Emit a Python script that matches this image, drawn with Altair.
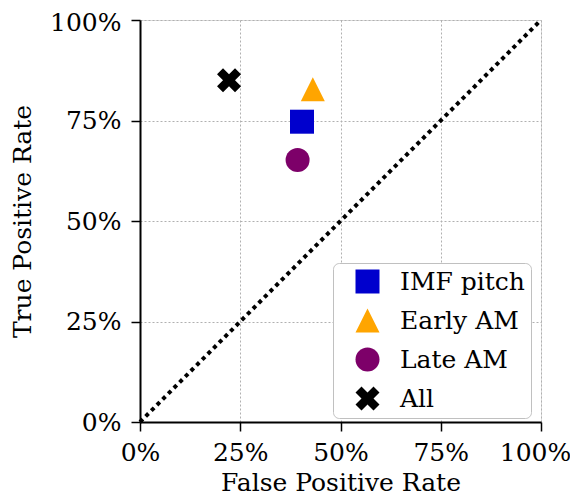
import altair as alt
import pandas as pd

# ---- data ----
categories = ["IMF pitch", "Early AM", "Late AM", "All"]
fpr = [0.404, 0.431, 0.393, 0.222]
tpr = [0.747, 0.828, 0.652, 0.850]
diag_x = [0.0, 1.0]
diag_y = [0.0, 1.0]
tick_values = [0, 0.25, 0.5, 0.75, 1.0]

colors = ["#0000CD", "#FFA500", "#7D0069", "#000000"]
X_PATH = "M0.5,-1L0,-0.5L-0.5,-1L-1,-0.5L-0.5,0L-1,0.5L-0.5,1L0,0.5L0.5,1L1,0.5L0.5,0L1,-0.5Z"
TRI_PATH = "M0,-1L1,1L-1,1Z"
shapes = ["square", TRI_PATH, "circle", X_PATH]

pts = pd.DataFrame({"cat": categories, "fpr": fpr, "tpr": tpr})
diag = pd.DataFrame({"fpr": diag_x, "tpr": diag_y})

FONT = "DejaVu Serif"


def make_axis(title, lab_pad, title_pad, last_offset):
    return alt.Axis(
        title=title, values=tick_values, format=".0%",
        labelFont=FONT, labelFontSize=25, labelColor="black",
        titleFont=FONT, titleFontSize=25, titleFontWeight="normal", titleColor="black",
        domainColor="black", domainWidth=2,
        tickColor="black", tickWidth=1.5, tickSize=9,
        labelPadding=lab_pad, titlePadding=title_pad,
        labelOffset={"condition": {"test": "datum.value == 1", "value": last_offset}, "value": 0},
        labelFlush=False, labelOverlap=False,
        gridColor="#b0b0b0", gridDash=[2, 2], gridWidth=1,
    )


xscale = alt.Scale(domain=[0, 1], nice=False, zero=False)
yscale = alt.Scale(domain=[0, 1], nice=False, zero=False)

x_enc = alt.X("fpr:Q", scale=xscale, axis=make_axis("False Positive Rate", 9, 5, -6))
y_enc = alt.Y("tpr:Q", scale=yscale, axis=make_axis("True Positive Rate", 10, 14, 2))

line = alt.Chart(diag).mark_line(
    color="black", strokeWidth=4, strokeDash=[4, 4], strokeCap="butt"
).encode(x=x_enc, y=y_enc)

leg = dict(
    title=None, orient="none", legendX=193, legendY=243, padding=6,
    symbolSize=576, labelFont=FONT, labelFontSize=25, labelColor="black",
    rowPadding=13, symbolOffset=16, labelOffset=20,
    fillColor="white", strokeColor="#c0c0c0", cornerRadius=6,
    symbolStrokeWidth=0, symbolOpacity=1,
    labelExpr="datum.label + '\u00a0'",
)

points = alt.Chart(pts).mark_point(filled=True, opacity=1, size=576, strokeWidth=0).encode(
    x=alt.X("fpr:Q", scale=xscale),
    y=alt.Y("tpr:Q", scale=yscale),
    color=alt.Color("cat:N", scale=alt.Scale(domain=categories, range=colors), legend=alt.Legend(**leg)),
    shape=alt.Shape("cat:N", scale=alt.Scale(domain=categories, range=shapes), legend=alt.Legend(**leg)),
)

chart = alt.layer(line, points).properties(
    width=401, height=402,
    autosize=alt.AutoSizeParams(type="none"),
    padding={"left": 132, "top": 12, "right": 29, "bottom": 77},
).configure_view(stroke="black", strokeWidth=2).configure(background="white")

chart.save("out.html", embed_options={"renderer": "svg", "actions": False})
